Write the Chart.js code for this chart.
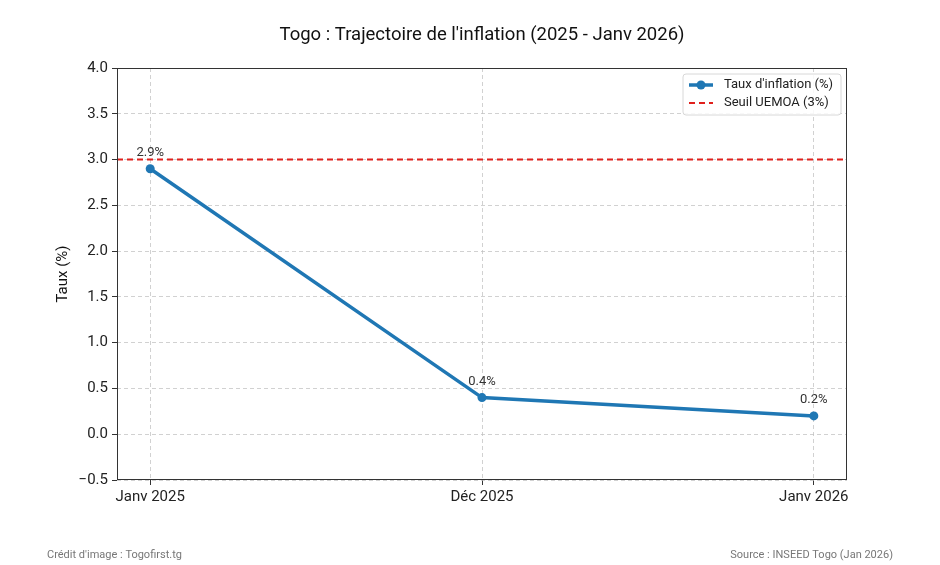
<!DOCTYPE html>
<html>
<head>
<meta charset="utf-8">
<script src="https://cdn.jsdelivr.net/npm/chart.js@4.4.1/dist/chart.umd.min.js"></script>
<style>
  html, body { margin: 0; padding: 0; background: #fff; }
  #wrap { width: 940px; height: 565px; position: relative; }
</style>
</head>
<body>
<div id="wrap"><canvas id="inflation"></canvas></div>
<script>
var categories = ['Janv 2025', 'Déc 2025', 'Janv 2026'];
var inflation = [2.9, 0.4, 0.2];
var seuil = 3.0;
var yTicks = [-0.5, 0, 0.5, 1, 1.5, 2, 2.5, 3, 3.5, 4];

var FONT = 'Roboto, "Open Sans", sans-serif';
var BLUE = '#1f77b4';
var RED = '#e0201c';

// extras: titre, label Y, cadre, étiquettes, légende, crédits
var extras = {
    id: 'extras',
    afterDraw: function (chart) {
        var ctx = chart.ctx;
        var a = chart.chartArea;
        var xs = chart.scales.x, ys = chart.scales.y;
        ctx.save();

        // cadre
        ctx.strokeStyle = '#333';
        ctx.lineWidth = 1;
        ctx.strokeRect(a.left + 0.5, a.top + 0.5, a.right - a.left - 1, a.bottom - a.top - 1);

        // titre
        ctx.fillStyle = '#111';
        ctx.font = '18.5px ' + FONT;
        ctx.textAlign = 'center';
        ctx.textBaseline = 'middle';
        ctx.fillText("Togo : Trajectoire de l'inflation (2025 - Janv 2026)", (a.left + a.right) / 2, 35);

        // label Y
        ctx.save();
        ctx.translate(63, (a.top + a.bottom) / 2);
        ctx.rotate(-Math.PI / 2);
        ctx.font = '15px ' + FONT;
        ctx.fillText('Taux (%)', 0, 0);
        ctx.restore();

        // étiquettes des points
        ctx.font = '13px ' + FONT;
        ctx.fillStyle = '#333';
        inflation.forEach(function (v, i) {
            ctx.fillText(v.toFixed(1) + '%', xs.getPixelForValue(i), ys.getPixelForValue(v) - 16);
        });

        // légende
        var lx = a.right - 164, ly = a.top + 6, lw = 158, lh = 41;
        ctx.fillStyle = 'rgba(255,255,255,0.85)';
        ctx.strokeStyle = '#d8d8d8';
        ctx.beginPath();
        ctx.roundRect(lx, ly, lw, lh, 3);
        ctx.fill();
        ctx.stroke();

        ctx.lineWidth = 3.5;
        ctx.strokeStyle = BLUE;
        ctx.beginPath();
        ctx.moveTo(lx + 6, ly + 11);
        ctx.lineTo(lx + 30, ly + 11);
        ctx.stroke();
        ctx.fillStyle = BLUE;
        ctx.beginPath();
        ctx.arc(lx + 18, ly + 11, 4.5, 0, Math.PI * 2);
        ctx.fill();

        ctx.lineWidth = 2;
        ctx.strokeStyle = RED;
        ctx.setLineDash([6, 4]);
        ctx.beginPath();
        ctx.moveTo(lx + 6, ly + 29);
        ctx.lineTo(lx + 30, ly + 29);
        ctx.stroke();
        ctx.setLineDash([]);

        ctx.fillStyle = '#222';
        ctx.font = '13px ' + FONT;
        ctx.textAlign = 'left';
        ctx.fillText("Taux d'inflation (%)", lx + 41, ly + 11);
        ctx.fillText('Seuil UEMOA (3%)', lx + 41, ly + 29);

        // crédits
        ctx.font = '11px ' + FONT;
        ctx.fillStyle = '#777';
        ctx.fillText("Crédit d'image : Togofirst.tg", 47, 555);
        ctx.textAlign = 'right';
        ctx.fillText('Source : INSEED Togo (Jan 2026)', 893, 555);

        ctx.restore();
    }
};

var ctx = document.getElementById('inflation').getContext('2d');
var myChart = new Chart(ctx, {
    type: 'line',
    data: {
        datasets: [{
            label: "Taux d'inflation (%)",
            data: inflation.map(function (v, i) { return { x: i, y: v }; }),
            borderColor: BLUE,
            backgroundColor: BLUE,
            borderWidth: 3.5,
            pointRadius: 4.5,
            pointHoverRadius: 4.5,
            pointBorderWidth: 0,
            tension: 0,
            order: 1
        }, {
            label: 'Seuil UEMOA (3%)',
            data: [{ x: -0.1, y: seuil }, { x: 2.1, y: seuil }],
            borderColor: RED,
            borderWidth: 2,
            borderDash: [6, 4],
            pointRadius: 0,
            order: 0
        }]
    },
    plugins: [extras],
    options: {
        responsive: true,
        maintainAspectRatio: false,
        animation: false,
        layout: { padding: { left: 0, top: 68, right: 93, bottom: 0 } },
        plugins: {
            legend: { display: false },
            title: { display: false },
            tooltip: { enabled: false }
        },
        scales: {
            x: {
                type: 'linear',
                min: -0.1,
                max: 2.1,
                afterBuildTicks: function (s) { s.ticks = categories.map(function (c, i) { return { value: i }; }); },
                afterFit: function (s) { s.height = 85; },
                ticks: {
                    callback: function (v) { return categories[v]; },
                    color: '#222',
                    font: { family: FONT, size: 15 },
                    padding: 3,
                    maxRotation: 0
                },
                grid: {
                    color: 'rgba(190,190,190,0.7)',
                    tickBorderDash: [],
                    tickColor: '#333',
                    tickLength: 5
                },
                border: { display: false, dash: [4, 3] }
            },
            y: {
                min: -0.5,
                max: 4,
                afterBuildTicks: function (s) { s.ticks = yTicks.map(function (v) { return { value: v }; }); },
                afterFit: function (s) { s.width = 117; },
                ticks: {
                    callback: function (v) { return v < 0 ? '\u2212' + Math.abs(v).toFixed(1) : v.toFixed(1); },
                    color: '#222',
                    font: { family: FONT, size: 15 },
                    padding: 4
                },
                grid: {
                    color: 'rgba(190,190,190,0.7)',
                    tickBorderDash: [],
                    tickColor: '#333',
                    tickLength: 5
                },
                border: { display: false, dash: [4, 3] }
            }
        }
    }
});
</script>
</body>
</html>
